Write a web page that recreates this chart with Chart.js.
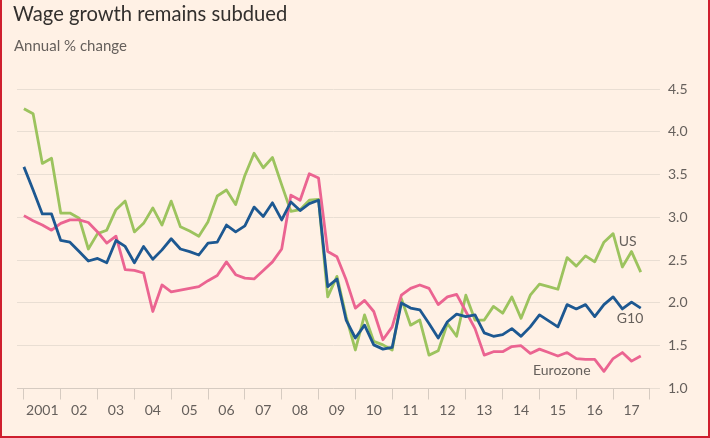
<!DOCTYPE html>
<html><head><meta charset="utf-8">
<script src="https://cdn.jsdelivr.net/npm/chart.js@4/dist/chart.umd.min.js"></script>
<style>
html,body{margin:0;padding:0;background:#fff1e5;}
#wrap{position:relative;width:710px;height:438px;background:#fff1e5;overflow:hidden;}
#frame{position:absolute;left:0;top:0;width:710px;height:438px;box-sizing:border-box;border:2px solid #cf1f2e;border-top:none;pointer-events:none;}
#title{position:absolute;left:13px;top:1px;font-family:Lato,sans-serif;font-size:20.2px;color:#33302e;white-space:nowrap;}
#sub{position:absolute;left:14px;top:36px;font-family:Lato,sans-serif;font-size:15px;color:#66605c;white-space:nowrap;}
canvas{position:absolute;left:0;top:0;}
</style></head>
<body>
<div id="wrap">
<canvas id="c" width="710" height="438"></canvas>
<div id="title">Wage growth remains subdued</div>
<div id="sub">Annual % change</div>
<div id="frame"></div>
</div>
<script>
// Year tick labels (axis spans 2001 to 2018, quarterly points)
const yearLabels = ['2001','02','03','04','05','06','07','08','09','10','11','12','13','14','15','16','17'];
const seriesNames = ['US','G10','Eurozone'];

const usValues = [4.27,4.21,3.63,3.69,3.05,3.05,2.99,2.63,2.81,2.85,
 3.09,3.19,2.83,2.93,3.11,2.91,3.19,2.89,2.84,2.78,
 2.95,3.25,3.32,3.15,3.49,3.75,3.58,3.70,3.38,3.07,
 3.09,3.20,3.21,2.07,2.31,1.84,1.45,1.86,1.55,1.51,
 1.45,2.05,1.74,1.80,1.39,1.44,1.76,1.61,2.09,1.80,
 1.80,1.96,1.88,2.07,1.82,2.09,2.22,2.19,2.16,2.53,
 2.43,2.55,2.48,2.71,2.81,2.42,2.60,2.36];

const g10Values = [3.59,3.32,3.04,3.04,2.73,2.71,2.60,2.49,2.52,2.47,
 2.73,2.66,2.47,2.66,2.51,2.62,2.75,2.63,2.60,2.56,
 2.70,2.71,2.91,2.83,2.90,3.12,3.01,3.17,2.97,3.18,
 3.08,3.16,3.20,2.19,2.28,1.80,1.59,1.74,1.51,1.46,
 1.48,2.00,1.94,1.92,1.76,1.59,1.78,1.87,1.84,1.86,
 1.65,1.61,1.63,1.70,1.61,1.72,1.86,1.79,1.72,1.98,
 1.93,1.98,1.84,1.98,2.07,1.93,2.01,1.94];

const ezValues = [3.02,2.96,2.91,2.85,2.93,2.97,2.97,2.94,2.83,2.70,
 2.78,2.39,2.38,2.35,1.90,2.21,2.13,2.15,2.17,2.19,
 2.26,2.32,2.48,2.33,2.29,2.28,2.38,2.48,2.63,3.26,
 3.20,3.51,3.46,2.60,2.54,2.27,1.94,2.03,1.90,1.57,
 1.72,2.09,2.17,2.21,2.17,1.98,2.07,2.10,1.90,1.70,
 1.39,1.43,1.43,1.49,1.50,1.41,1.46,1.42,1.38,1.42,
 1.35,1.34,1.34,1.20,1.35,1.42,1.32,1.38];

const yTicks = {min:1, max:4.5, step:0.5};

const toPts = arr => arr.map((v,i)=>({x:i, y:v}));

// Direct series labels, anchored in data coordinates
const labelAnchors = [
  {name: seriesNames[0], x: 64.6, y: 2.72},
  {name: seriesNames[1], x: 64.4, y: 1.82},
  {name: seriesNames[2], x: 55.3, y: 1.21}
];

const seriesLabelPlugin = {
  id:'seriesLabels',
  afterDatasetsDraw(chart){
    const {ctx, scales:{x,y}} = chart;
    ctx.save();
    ctx.font = '14px Lato, sans-serif';
    ctx.fillStyle = '#66605c';
    ctx.textAlign = 'left';
    ctx.textBaseline = 'middle';
    labelAnchors.forEach(l => ctx.fillText(l.name, x.getPixelForValue(l.x), y.getPixelForValue(l.y)));
    ctx.restore();
  }
};

const nQuarters = yearLabels.length * 4;

new Chart(document.getElementById('c'), {
  type:'line',
  data:{
    datasets:[
      {label:seriesNames[1], data:toPts(g10Values), borderColor:'#1d5891', borderWidth:2.8, pointRadius:0, tension:0, borderJoinStyle:'round'},
      {label:seriesNames[2], data:toPts(ezValues), borderColor:'#eb6491', borderWidth:2.8, pointRadius:0, tension:0, borderJoinStyle:'round'},
      {label:seriesNames[0], data:toPts(usValues), borderColor:'#9cc35e', borderWidth:2.8, pointRadius:0, tension:0, borderJoinStyle:'round'}
    ]
  },
  options:{
    responsive:false,
    animation:false,
    layout:{padding:{left:17, top:89, right:14.5, bottom:15.7}},
    plugins:{legend:{display:false}, tooltip:{enabled:false}},
    scales:{
      x:{
        type:'linear', min:-0.75, max:nQuarters,
        afterBuildTicks:(s)=>{ const t=[]; for(let k=0;k<=nQuarters;k+=2) t.push({value:k}); s.ticks=t; },
        ticks:{autoSkip:false, maxRotation:0, minRotation:0, padding:3, color:'#66605c',
          font:{family:'Lato', size:14},
          callback:(v)=> (v%4===2) ? yearLabels[(v-2)/4] : ''},
        grid:{drawOnChartArea:false, drawTicks:true, tickLength:11,
          tickColor:(c)=> (c.tick && c.tick.value%4===0) ? '#d6cbc1' : 'rgba(0,0,0,0)'},
        border:{display:true, color:'#d6cbc1', width:1}
      },
      y:{
        position:'right', min:yTicks.min, max:yTicks.max,
        ticks:{stepSize:yTicks.step, padding:8, color:'#66605c', font:{family:'Lato', size:14},
          callback:(v)=> Number(v).toFixed(1)},
        grid:{color:'#e9ded3', tickLength:10, drawTicks:true},
        border:{display:false}
      }
    }
  },
  plugins:[seriesLabelPlugin]
});
</script>
</body></html>
